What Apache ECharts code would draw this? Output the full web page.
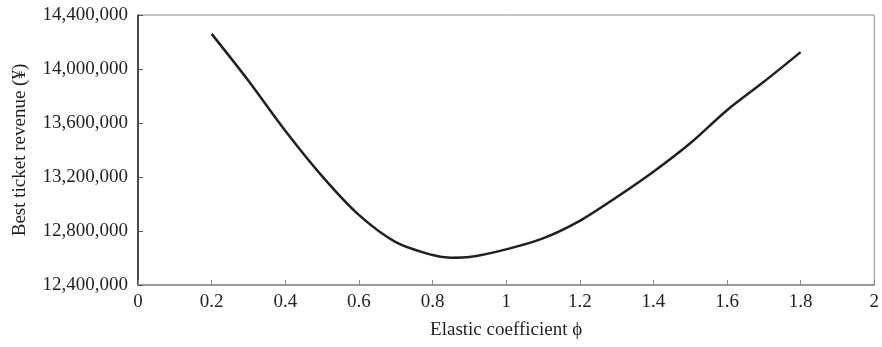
<!DOCTYPE html>
<html>
<head>
<meta charset="utf-8">
<script src="https://cdn.jsdelivr.net/npm/echarts@6/dist/echarts.min.js"></script>
<style>
  html, body { margin: 0; padding: 0; background: #fff; }
  #chart { width: 882px; height: 347px; }
</style>
</head>
<body>
<div id="chart"></div>
<script>
// elastic coefficient values and best revenue
const phiValues = [0.2, 0.3, 0.4, 0.5, 0.6, 0.7, 0.8, 0.85, 0.9, 1.0, 1.1, 1.2, 1.3, 1.4, 1.5, 1.6, 1.7, 1.8];
const revenueValues = [14260000, 13913000, 13543000, 13207000, 12919000, 12718000, 12622000, 12602000, 12607000,
    12664000, 12745000, 12875000, 13050000, 13239000, 13450000, 13695000, 13905000, 14125000];

const FONT = 'Liberation Serif';
const LABEL_SIZE = 19;

const chart = echarts.init(document.getElementById('chart'));
const option = {
    animation: false,
    backgroundColor: '#fff',
    grid: {
        left: 138,
        right: 5,
        top: 15,
        bottom: 62,
        show: true,
        borderColor: '#8a8a8a',
        borderWidth: 1,
    },
    xAxis: {
        type: 'value',
        min: 0,
        max: 2,
        interval: 0.2,
        name: 'Elastic coefficient ϕ',
        nameLocation: 'middle',
        nameGap: 36,
        nameTextStyle: { fontFamily: FONT, fontSize: LABEL_SIZE, color: '#231f20' },
        axisLine: { lineStyle: { color: '#8a8a8a', width: 1.5 } },
        axisTick: { inside: true, length: 5, lineStyle: { color: '#8a8a8a' } },
        axisLabel: { fontFamily: FONT, fontSize: LABEL_SIZE, color: '#231f20', margin: 8 },
        splitLine: { show: false },
    },
    yAxis: {
        type: 'value',
        min: 12400000,
        max: 14400000,
        interval: 400000,
        name: 'Best ticket revenue (¥)',
        nameLocation: 'middle',
        nameGap: 108,
        nameTextStyle: { fontFamily: FONT, fontSize: LABEL_SIZE, color: '#231f20' },
        axisLine: { show: true, lineStyle: { color: '#231f20', width: 1.5 } },
        axisTick: { show: true, inside: true, length: 5, lineStyle: { color: '#555' } },
        axisLabel: {
            fontFamily: FONT,
            fontSize: LABEL_SIZE,
            color: '#231f20',
            margin: 10,
            formatter: (v) => v.toLocaleString('en-US'),
        },
        splitLine: { show: false },
    },
    series: [
        {
            type: 'line',
            data: phiValues.map((x, i) => [x, revenueValues[i]]),
            smooth: 0.3,
            showSymbol: false,
            lineStyle: { color: '#231f20', width: 2.5 },
        },
    ],
};
chart.setOption(option);
</script>
</body>
</html>
